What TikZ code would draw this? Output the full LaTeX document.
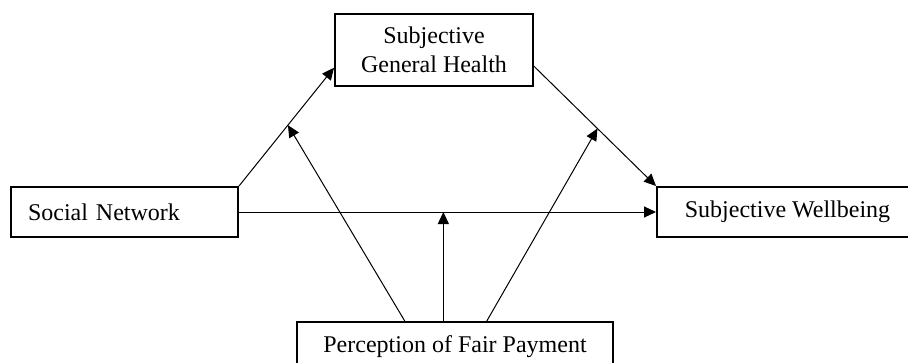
\documentclass[tikz,border=0pt]{standalone}
\usepackage{fontspec}
\setmainfont{Liberation Serif}
\usetikzlibrary{arrows.meta,calc}
\tikzset{
>={Triangle[length=6pt,width=5.5pt]},
main box/.style={draw,rectangle,line width=1pt,inner sep=2pt,align=center,minimum height=25pt},
freccia/.style={->,line width=0.5pt}}

\begin{document}
\begin{tikzpicture}[x=0.5pt,y=-0.5pt,font=\fontsize{12}{14.5}\selectfont]
\useasboundingbox (0,0) rectangle (908,363);

\node[main box,minimum width=99pt,minimum height=36pt] (sgh) at (434,50) {Subjective\\General Health};
\node[main box,text width=96.5pt,inner xsep=8.5pt,align=left] (sn) at (124.5,212) {Social Network};
\node[main box,minimum width=130.5pt] (swb) at (787.5,212) {Subjective Wellbeing};
\node[main box,minimum width=158pt] (pfp) at (455,347) {Perception of Fair Payment};

\draw[freccia] (sn.north east) -- coordinate[pos=.515] (m1) ($(sgh.south west)!.26!(sgh.north west)$);
\draw[freccia] ($(sgh.south east)!.28!(sgh.north east)$) -- coordinate[pos=.52] (m3) (swb.north west);
\draw[freccia] (sn.east) -- coordinate[pos=.49] (m2) (swb.west);

\draw[freccia] ($(pfp.north west)!.342!(pfp.north east)$) -- (m1);
\draw[freccia] (pfp.north -| m2) -- (m2);
\draw[freccia] ($(pfp.north west)!.60!(pfp.north east)$) -- (m3);

\end{tikzpicture}
\end{document}
